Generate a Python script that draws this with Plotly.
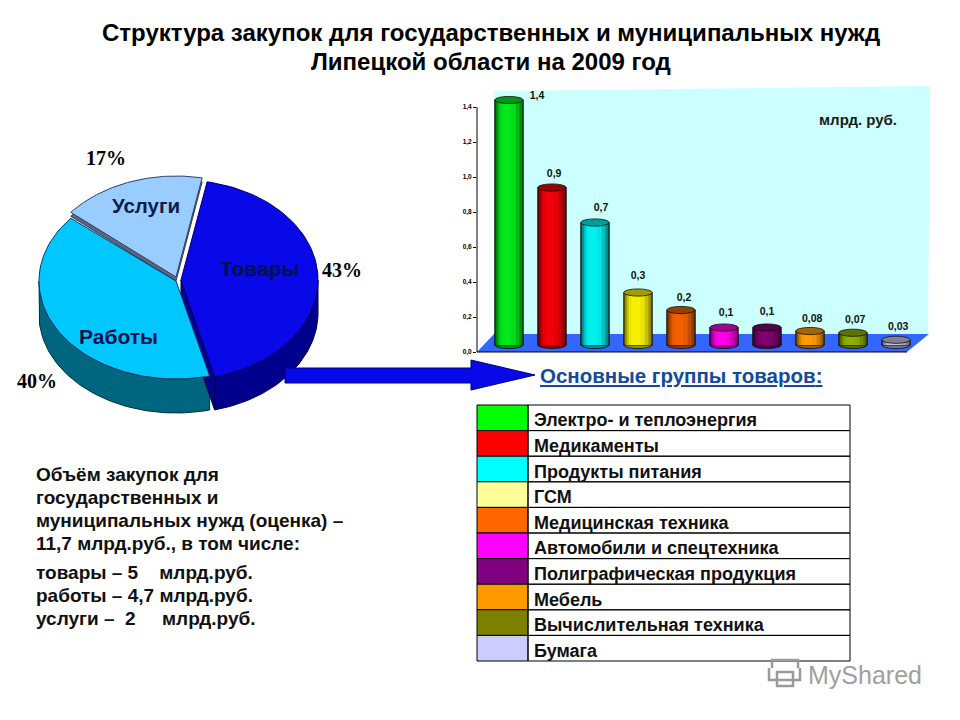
import numpy as np
import plotly.graph_objects as go

# ---- data ----
title_lines = ["Структура закупок для государственных и муниципальных нужд", "Липецкой области на 2009 год"]
pie_names = ["Товары", "Работы", "Услуги"]
pie_shares = [43, 40, 17]
pie_pct_labels = ["43%", "40%", "17%"]

categories = ["Электро- и теплоэнергия", "Медикаменты", "Продукты питания", "ГСМ", "Медицинская техника",
              "Автомобили и спецтехника", "Полиграфическая продукция", "Мебель", "Вычислительная техника", "Бумага"]
values = [1.4, 0.9, 0.7, 0.3, 0.2, 0.1, 0.1, 0.08, 0.07, 0.03]
value_labels = ["1,4", "0,9", "0,7", "0,3", "0,2", "0,1", "0,1", "0,08", "0,07", "0,03"]
y_ticks = [0.0, 0.2, 0.4, 0.6, 0.8, 1.0, 1.2, 1.4]
y_tick_labels = ["0,0", "0,2", "0,4", "0,6", "0,8", "1,0", "1,2", "1,4"]
legend_colors = ["#00FF00", "#FF0000", "#00FFFF", "#FFFF99", "#FF6600", "#FF00FF", "#800080", "#FF9900", "#808000", "#CCCCFF"]
bar_colors = ["#00E81C", "#F00008", "#00F0F0", "#F8F000", "#F06000", "#FF00E8", "#800070", "#FF9C00", "#90B000", "#C4C4E8"]
left_text = ["Объём закупок для", "государственных и", "муниципальных нужд (оценка) –", "11,7 млрд.руб., в том числе:"]
left_text2 = ["товары – 5    млрд.руб.", "работы – 4,7 млрд.руб.", "услуги –  2     млрд.руб."]

# ---- style / layout constants ----
SANS = "Liberation Sans"
SERIF = "Liberation Serif"
PX_PER_UNIT = 175.0
BASE = 7 / PX_PER_UNIT
BAR_W = 0.66
X0_PX, PITCH = 509.0, 43.0
L, R, T, B = 477, 928, 88, 352
H = 716.0  # vertical extent of the pixel-scaled overlay axis


def shade(c, f):
    r, g, b = int(c[1:3], 16), int(c[3:5], 16), int(c[5:7], 16)
    if f <= 1:
        r, g, b = r * f, g * f, b * f
    else:
        k = f - 1
        r, g, b = r + (255 - r) * k, g + (255 - g) * k, b + (255 - b) * k
    return f"rgb({int(r)},{int(g)},{int(b)})"


def pxpath(pts):
    """Pixel points to a closed paper-referenced path."""
    return "M " + " L ".join(f"{x / 960:.5f} {1 - y / H:.5f}" for x, y in pts) + " Z"


fig = go.Figure()
xs = list(range(len(values)))
bases = [BASE] * len(values)

# cylinder bodies: stacked overlays give the rounded shading
for w_k, off, f in [(1.0, 0, 0.45), (0.90, 0, 0.62), (0.76, -0.01, 0.80), (0.56, -0.03, 0.95), (0.30, -0.05, 1.0)]:
    fig.add_trace(go.Bar(
        x=[i + off for i in xs], y=values, base=bases, width=[BAR_W * w_k] * len(values),
        marker=dict(color=[shade(c, f) for c in bar_colors],
                    line=dict(color="#101010", width=1 if w_k == 1.0 else 0)),
        hoverinfo="skip", showlegend=False))

label_dx = [0.65, 0.05, 0.14, 0.0, 0.07, 0.05, 0.0, 0.05, 0.05, 0.05]
label_dy = [-0.012, 0.046, 0.051, 0.064, 0.036, 0.053, 0.057, 0.035, 0.042, 0.041]
fig.add_trace(go.Scatter(
    x=[i + d for i, d in zip(xs, label_dx)],
    y=[v + BASE + d + 0.03 for v, d in zip(values, label_dy)],
    mode="text", text=value_labels, textposition="middle center", cliponaxis=False,
    textfont=dict(family=SANS, size=10.5, color="#101010", weight="bold"),
    hoverinfo="skip", showlegend=False))

# ---- pie drawn from its shares, on a pixel-scaled hidden axis ----
RX, DEPTH = 137.0, 33.0
START = 11.0
centers = {"Товары": (181, 280), "Работы": (176, 281), "Услуги": (176, 277)}
tops = {"Товары": "#0808E8", "Работы": "#00C8FF", "Услуги": "#99CCFF"}
sides = {"Товары": "#00008C", "Работы": "#006680", "Услуги": "#5C6680"}
edges = {"Товары": "#000060", "Работы": "#003C66", "Услуги": "#304060"}
rys = {"Товары": 100.0, "Работы": 98.0, "Услуги": 101.0}


def arc(name, a0, a1, dy=0.0):
    t = np.radians(np.linspace(a0, a1, 80))
    cx, cy = centers[name]
    return cx + RX * np.sin(t), cy - rys[name] * np.cos(t) + dy


def poly(x, y, fill, edge):
    fig.add_trace(go.Scatter(x=list(x) + [x[0]], y=list(y) + [y[0]], xaxis="x2", yaxis="y2", mode="lines",
                             fill="toself", fillcolor=fill, line=dict(color=edge, width=1),
                             hoverinfo="skip", showlegend=False))


cum = START
ang = {}
for n, s in zip(pie_names, pie_shares):
    ang[n] = (cum, cum + s / sum(pie_shares) * 360)
    cum = ang[n][1]

# side walls
a0, a1 = ang["Работы"]
x, y = arc("Работы", a0, 270)
poly(np.r_[x, x[::-1]], np.r_[y, (y + DEPTH + 1)[::-1]], sides["Работы"], "#002C40")
a0, a1 = ang["Товары"]
cx, cy = centers["Товары"]
x, y = arc("Товары", a1, a1)
poly([cx, x[0], x[0], cx], [cy, y[0], y[0] + DEPTH, cy + DEPTH], sides["Товары"], "#000050")
x, y = arc("Товары", 90, a1)
poly(np.r_[x, x[::-1]], np.r_[y, (y + DEPTH)[::-1]], sides["Товары"], "#000050")
a0, a1 = ang["Услуги"]
x, y = arc("Услуги", a0, a1, 4)
cx, cy = centers["Услуги"]
poly(np.r_[cx, x], np.r_[cy + 4, y], sides["Услуги"], edges["Услуги"])

# top faces
for n in ["Услуги", "Работы", "Товары"]:
    a0, a1 = ang[n]
    x, y = arc(n, a0, a1)
    cx, cy = centers[n]
    poly(np.r_[cx, x], np.r_[cy, y], tops[n], edges[n])

shapes = []
# back wall, floor (paper-referenced so they lie beneath every subplot)
shapes.append(dict(type="path", path=pxpath([(494, 91), (930, 86), (928, 334), (494, 334)]), xref="paper", yref="paper",
                   fillcolor="#CCFFFF", line=dict(width=0), layer="below"))
shapes.append(dict(type="path", path=pxpath([(L, B), (907, B), (929, 334), (494, 334)]), xref="paper", yref="paper",
                   fillcolor="#3366FF", line=dict(width=0), layer="below"))
shapes.append(dict(type="line", x0=L / 960, x1=907 / 960, y0=1 - B / H, y1=1 - B / H, xref="paper", yref="paper",
                   line=dict(color="#000000", width=1.2), layer="below"))
shapes.append(dict(type="line", x0=L / 960, x1=L / 960, y0=y_ticks[0], y1=y_ticks[-1], xref="paper", yref="y",
                   line=dict(color="#000000", width=1), layer="below"))
# bar caps
EH = 3.6 / PX_PER_UNIT
for i, (v, c) in enumerate(zip(values, bar_colors)):
    shapes.append(dict(type="circle", xref="x", yref="y", x0=i - BAR_W / 2, x1=i + BAR_W / 2,
                       y0=BASE - EH, y1=BASE + EH, fillcolor=shade(c, 0.6),
                       line=dict(color="#101010", width=0.8), layer="below"))
    shapes.append(dict(type="circle", xref="x", yref="y", x0=i - BAR_W / 2, x1=i + BAR_W / 2,
                       y0=BASE + v - EH, y1=BASE + v + EH, fillcolor=shade(c, 0.65),
                       line=dict(color="#101010", width=0.8), layer="above"))

# arrow
shapes.append(dict(type="path", path="M 285 368 L 471 368 L 471 360 L 535 375 L 471 390 L 471 383 L 285 383 Z",
                   xref="x2", yref="y2", fillcolor="#0808E8", line=dict(color="#000080", width=1), layer="above"))

# legend table
TX0, TX1, TY0, ROW = 477, 850, 405, 25.6
SW = 528
for i, c in enumerate(legend_colors):
    y0 = TY0 + i * ROW
    shapes.append(dict(type="rect", x0=TX0, x1=SW, y0=y0, y1=y0 + ROW, xref="x2", yref="y2",
                       fillcolor=c, line=dict(color="#000000", width=1)))
    shapes.append(dict(type="rect", x0=SW, x1=TX1, y0=y0, y1=y0 + ROW, xref="x2", yref="y2",
                       fillcolor="rgba(255,255,255,0)", line=dict(color="#000000", width=1)))

# watermark icon
shapes.append(dict(type="path", path="M 769 668 L 769 680 L 800 680 L 800 668 M 772 668 L 772 660 L 798 660 L 798 668 M 777 672 L 793 672 L 793 686 L 777 686 Z",
                   xref="x2", yref="y2", line=dict(color="#9A9A9A", width=2.5), layer="above"))

ann = []


def text(s, x, y, size, color="#000000", anchor="left", bold=True, family=SANS):
    ann.append(dict(text=f"<b>{s}</b>" if bold else s, x=x, y=y, xref="x2", yref="y2", xanchor=anchor, yanchor="middle",
                    showarrow=False, font=dict(family=family, size=size, color=color)))


text(title_lines[0], 491, 32, 24, anchor="center")
text(title_lines[1], 491, 61, 24, anchor="center")

for n, p, sz in zip(pie_names, [(259, 268), (118, 336), (146, 205)], [21, 21, 20.5]):
    text(n, p[0], p[1], sz, color="#00124E" if n != "Услуги" else "#0A1E4A", anchor="center")
for s, p in zip(pie_pct_labels, [(342, 270), (37, 381), (106, 158)]):
    text(s, p[0], p[1], 20, color="#000000", anchor="center", family=SERIF)

text("млрд. руб.", 858, 119, 15, color="#1A1A1A", anchor="center")
text("<u>Основные группы товаров</u><u>:</u>", 538, 375, 20.5, color="#134A9C")

for i, c in enumerate(categories):
    text(c, 532, TY0 + (i + 0.6) * ROW, 18, color="#101010")

for s, y in zip(left_text, [474, 497, 520, 543]):
    text(s, 34, y, 19, color="#101010")
for s, y in zip(left_text2, [572, 595, 618]):
    text(s, 34, y, 19, color="#101010")

text("MyShared", 806, 675, 25, color="#A0A0A0", bold=False)

fig.update_layout(
    width=960, height=720, margin=dict(l=0, r=0, t=0, b=0),
    paper_bgcolor="#FFFFFF", plot_bgcolor="rgba(0,0,0,0)",
    barmode="overlay", showlegend=False, shapes=shapes, annotations=ann,
    xaxis=dict(domain=[L / 960, R / 960], range=[(L - X0_PX) / PITCH, (R - X0_PX) / PITCH], visible=False),
    yaxis=dict(domain=[1 - B / H, 1 - T / H], range=[0, (B - T) / PX_PER_UNIT],
               tickvals=y_ticks, ticktext=y_tick_labels, ticks="outside", ticklen=3, tickcolor="#000000",
               tickfont=dict(family=SANS, size=6.5, color="#000000", weight="bold"), showgrid=False, zeroline=False,
               showline=False),
    xaxis2=dict(domain=[0, 1], range=[0, 960], visible=False, anchor="y2"),
    yaxis2=dict(domain=[0, 1], range=[H, 0], visible=False, anchor="x2"),
)
fig.write_html("out.html", config={"displayModeBar": False},
               post_script="document.documentElement.style.overflow='hidden';document.body.style.margin='0';"
                           "document.body.style.overflow='hidden';document.body.style.height='720px';")
